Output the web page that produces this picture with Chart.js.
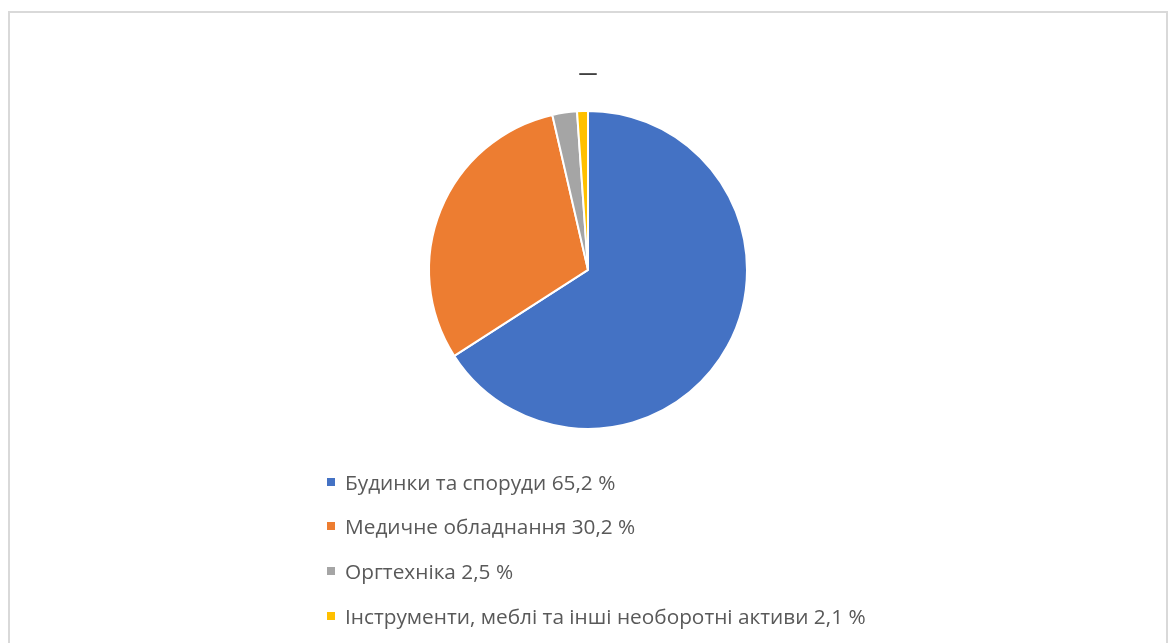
<!DOCTYPE html>
<html>
<head>
<meta charset="utf-8">
<script src="https://cdn.jsdelivr.net/npm/chart.js@4.4.0/dist/chart.umd.min.js"></script>
<style>
  html, body { margin: 0; padding: 0; background: #fff; overflow: hidden; }
  body { width: 1169px; height: 643px; position: relative; }
  /* 外枠（下辺は画面外） */
  #frame { position: absolute; left: 8px; top: 11px; width: 1156px; height: 700px; border: 2px solid #d9d9d9; border-bottom: none; }
  #wrap { position: absolute; left: 10px; top: 13px; width: 1156px; height: 630px; }
  #legend { position: absolute; left: 327px; top: 459.5px; margin: 0; padding: 0; list-style: none;
    font-family: 'Open Sans', 'Liberation Sans', sans-serif; font-size: 20.8px; color: #595959; }
  #legend li { height: 44.67px; display: flex; align-items: center; white-space: nowrap; }
  #legend .box { display: inline-block; width: 8px; height: 8px; margin-right: 10px; }
</style>
</head>
<body>
<div id="frame"></div>
<div id="wrap"><canvas id="pie-chart"></canvas></div>
<ul id="legend"></ul>
<script>
  // カテゴリ（凡例の文字列そのまま）
  const CATEGORIES = [
    'Будинки та споруди 65,2 %',
    'Медичне обладнання 30,2 %',
    'Оргтехніка 2,5 %',
    'Інструменти, меблі та інші необоротні активи 2,1 %',
  ];

  // 扇形の大きさ
  const VALUES = [65.9, 30.5, 2.5, 1.1];

  const COLORS = ['#4472c4', '#ed7d31', '#a5a5a5', '#ffc000'];

  const TITLE = '—';

  // HTMLの凡例を作るプラグイン
  const htmlLegendPlugin = {
    id: 'htmlLegend',
    afterUpdate(chart) {
      const ul = document.getElementById('legend');
      ul.innerHTML = '';
      const items = chart.options.plugins.legend.labels.generateLabels(chart);
      items.forEach(function(item) {
        const li = document.createElement('li');
        const box = document.createElement('span');
        box.className = 'box';
        box.style.background = item.fillStyle;
        const text = document.createElement('span');
        text.textContent = item.text;
        li.appendChild(box);
        li.appendChild(text);
        ul.appendChild(li);
      });
    },
  };

  new Chart(document.getElementById('pie-chart'), {
    type: 'doughnut',
    data: {
      labels: CATEGORIES,
      datasets: [
        {
          data: VALUES,
          backgroundColor: COLORS,
          borderColor: '#ffffff',
          borderWidth: 2,
          radius: 159,
        },
      ],
    },
    options: {
      responsive: true,
      maintainAspectRatio: false,
      animation: false,
      cutout: 0,
      layout: {
        padding: { top: 0, bottom: 197, left: 0, right: 0 },
      },
      plugins: {
        legend: { display: false },
        tooltip: { enabled: false },
        title: {
          display: true,
          text: TITLE,
          color: '#404040',
          font: { family: "'Open Sans', sans-serif", size: 19, weight: '600' },
          padding: { top: 49, bottom: 9 },
        },
      },
    },
    plugins: [htmlLegendPlugin],
  });
</script>
</body>
</html>
